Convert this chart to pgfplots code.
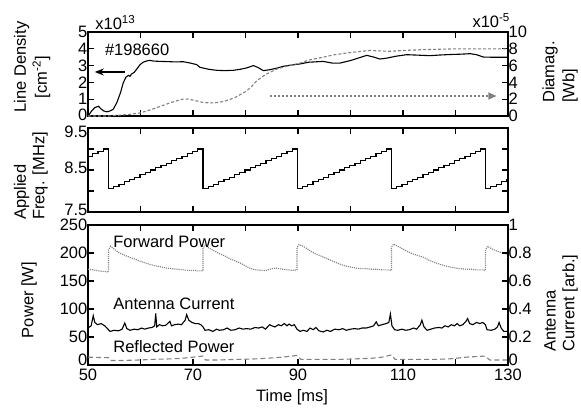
\documentclass[border=0pt]{standalone}
\usepackage{fontspec}
\setmainfont{Liberation Sans}
\usepackage{pgfplots}
\pgfplotsset{compat=1.18}
\usetikzlibrary{arrows.meta}

\definecolor{trace}{gray}{0.5}

\tikzset{lab/.style={font=\fontsize{16.5}{18}\selectfont, inner sep=0pt}}
\pgfplotsset{
  panel/.style={
    scale only axis, width=420pt,
    xmin=50, xmax=130, xtick={50,60,...,130},
    tick align=inside, major tick length=6pt,
    axis line style={line width=1.1pt},
    every tick/.style={black, line width=1.1pt},
    tick label style={font=\fontsize{16.5}{18}\selectfont},
    yticklabel style={inner sep=0.5pt},
    xticklabel style={inner sep=1pt, yshift=-3pt},
    /pgf/number format/assume math mode=true,
    clip=false,
  },
}

\begin{document}
\begin{tikzpicture}[x=1pt,y=1pt]
\path (0,0) rectangle (581,-407);

%% ---- panel 1: line density / diamagnetic flux
\begin{axis}[panel, at={(88pt,-32pt)}, anchor=north west, height=84pt,
  ymin=0, ymax=5, ytick={1,2,...,5}, extra y ticks={0},
  extra y tick style={yticklabel style={yshift=1.5pt}},
  ytick pos=left, xticklabels={}]
\addplot[black, line width=1.1pt] coordinates {
 (50,0) (50.7,0.3) (51.3,0.5) (52.0,0.58) (52.5,0.42) (53,0.3) (53.6,0.25)
 (54.2,0.3) (54.8,0.4) (55.5,0.8) (56.2,1.4) (56.7,1.96) (57.2,2.3) (57.7,2.42)
 (58.0,2.36) (58.3,2.5) (58.8,2.6) (59.3,2.8) (59.9,3.05) (60.5,3.2) (61.2,3.28)
 (61.8,3.31) (62.5,3.27) (63.7,3.25) (65,3.24) (66.5,3.22) (68.2,3.23) (69.5,3.15)
 (70.7,3.06) (71.3,2.9) (72,2.85) (73,2.78) (74.5,2.72) (76,2.7) (77.7,2.72)
 (79,2.78) (80.2,2.86) (81.5,3.0) (82.3,2.9) (83.4,2.7) (84.7,2.76) (86,2.85)
 (87.2,2.96) (88.5,3.02) (90.4,3.1) (92,3.2) (94.8,3.25) (96.5,3.15) (98,3.15)
 (100,3.3) (101.5,3.45) (103.1,3.61) (104.5,3.5) (105.6,3.39) (107,3.45) (108.5,3.55)
 (110.7,3.65) (113,3.62) (115.1,3.59) (117,3.63) (119,3.66) (121,3.68) (122.8,3.71)
 (124,3.65) (125.3,3.51) (126.6,3.5) (128,3.5) (130,3.5)
};
\draw[black, line width=1.1pt, -{Stealth[length=9pt,width=7pt]}]
  (axis cs:57.0,2.62) -- (axis cs:51.3,2.62);
\node[lab, anchor=west] at (axis cs:53.2,3.93) {\#198660};
\node[lab, anchor=base west] at (axis description cs:0.017,1.025) {x10\textsuperscript{13}};
\node[lab, anchor=west, rotate=90] at (axis description cs:-0.158,0.04) {Line Density};
\node[lab, anchor=west, rotate=90] at (axis description cs:-0.111,0.21) {[cm\textsuperscript{-2}]};
\node[lab, anchor=west, rotate=90] at (axis description cs:1.10,0.155) {Diamag.};
\node[lab, anchor=west, rotate=90] at (axis description cs:1.148,0.155) {[Wb]};
\end{axis}
\begin{axis}[panel, at={(88pt,-32pt)}, anchor=north west, height=84pt,
  axis x line=none, axis y line*=right, tick align=inside,
  ymin=0, ymax=10, ytick={0,2,...,10}]
\addplot[trace, line width=1.1pt, dash pattern=on 3pt off 2pt] coordinates {
 (50,0) (54,0) (56,0.1) (58,0.2) (60,0.38) (62,0.75) (64,1.2) (66,1.65) (68,2.0)
 (69,2.02) (70,1.9) (72,1.6) (74,1.55) (76,1.75) (78,2.2) (80,2.9) (81,3.4)
 (82,4.1) (83,4.6) (84,5.0) (86,5.6) (88,5.95) (90.4,6.3) (92,6.65) (94.8,7.0)
 (97,7.3) (99.3,7.5) (102,7.7) (103.7,7.8) (107.5,7.7) (110,7.8) (113.9,7.9)
 (120,8.0) (130,8.0)
};
\draw[trace, line width=1.1pt, dash pattern=on 2pt off 2pt,
  -{Triangle[length=8pt,width=7pt]}]
  (axis cs:84.7,2.38) -- (axis cs:127.8,2.38);
\node[lab, anchor=base east] at (axis description cs:1.005,1.05) {x10\textsuperscript{-5}};
\end{axis}

%% ---- panel 2: applied frequency
\begin{axis}[panel, at={(88pt,-128pt)}, anchor=north west, height=84pt,
  ymin=7.5, ymax=9.5, ytick={7.5,8,8.5,9}, yticklabels={7.5,,8.5,},
  yticklabel style={yshift=2.5pt},
  extra y ticks={9.5}, extra y tick labels={9.5},
  extra y tick style={yticklabel style={yshift=-6pt}},
  xticklabels={}]
\addplot[black, line width=1.1pt, const plot mark left] coordinates {
 (50,8.83) (50.9,8.89) (51.9,8.94) (52.9,9.00)
 (53.9,8.05) (54.9,8.11) (55.9,8.16) (56.9,8.22) (57.9,8.27) (58.9,8.33)
 (59.9,8.39) (60.9,8.44) (61.9,8.50) (62.9,8.55) (63.9,8.61) (64.9,8.66)
 (65.9,8.72) (66.9,8.78) (67.9,8.83) (68.9,8.89) (69.9,8.94) (70.9,9.00)
 (71.9,8.05) (72.9,8.11) (73.9,8.16) (74.9,8.22) (75.9,8.27) (76.9,8.33)
 (77.9,8.39) (78.9,8.44) (79.9,8.50) (80.9,8.55) (81.9,8.61) (82.9,8.66)
 (83.9,8.72) (84.9,8.78) (85.9,8.83) (86.9,8.89) (87.9,8.94) (88.9,9.00)
 (89.85,8.05) (90.85,8.11) (91.85,8.16) (92.85,8.22) (93.85,8.27) (94.85,8.33)
 (95.85,8.39) (96.85,8.44) (97.85,8.50) (98.85,8.55) (99.85,8.61) (100.85,8.66)
 (101.85,8.72) (102.85,8.78) (103.85,8.83) (104.85,8.89) (105.85,8.94) (106.85,9.00)
 (107.8,8.05) (108.8,8.11) (109.8,8.16) (110.8,8.22) (111.8,8.27) (112.8,8.33)
 (113.8,8.39) (114.8,8.44) (115.8,8.50) (116.8,8.55) (117.8,8.61) (118.8,8.66)
 (119.8,8.72) (120.8,8.78) (121.8,8.83) (122.8,8.89) (123.8,8.94) (124.8,9.00)
 (125.75,8.05) (126.75,8.11) (127.75,8.16) (128.75,8.22) (129.75,8.27) (130,8.27)
};
\node[lab, anchor=west, rotate=90] at (axis description cs:-0.158,-0.095) {Applied};
\node[lab, anchor=west, rotate=90] at (axis description cs:-0.114,-0.095) {Freq. [MHz]};
\end{axis}

%% ---- panel 3: power / antenna current
\begin{axis}[panel, at={(88pt,-225pt)}, anchor=north west, height=140pt,
  ymin=0, ymax=250, ytick={50,100,...,250}, ytick pos=left,
  extra y ticks={0}, extra y tick style={yticklabel style={yshift=5.5pt}},
  xticklabels={50,,70,,90,,110,,130},
  xlabel={Time [ms]}, xlabel style={lab, at={(axis description cs:0.486,-0.229)}, anchor=center}]
% forward power
\addplot[trace, line width=1.1pt, densely dotted] coordinates {
 (50,171) (51,170) (52,168) (53,167) (53.9,166) (53.9,205) (54.3,212) (55,207)
 (56,200) (57,196) (58,192) (59,189) (60,185) (61,182) (62,179) (63,177) (64,175)
 (65,173) (66,172) (67,171) (68,170) (69,169) (70,169) (71,168) (71.9,168)
 (71.9,208) (72.3,214) (73,209) (74,204) (75,199) (76,195) (77,190) (78,186)
 (79,182) (80,177) (81,172) (82,170) (83,169) (84,169) (85,172) (86,173) (87,171)
 (88,170) (89,169) (89.8,170) (89.8,210) (90.2,215) (91,212) (92,206) (93,200)
 (94,196) (95,192) (96,188) (97,184) (98,180) (99,177) (100,175) (101,173)
 (102,172) (103,172) (104,171) (105,171) (106,170) (107,170) (107.8,169)
 (107.8,210) (108.2,216) (109,212) (110,207) (111,202) (112,198) (113,195)
 (114,192) (115,187) (116,183) (117,180) (118,177) (119,175) (120,173) (121,172)
 (122,171) (123,171) (124,170) (125,170) (125.7,169) (125.7,205) (126.1,212)
 (127,207) (128,203) (129,200) (130,198)
};
% reflected power
\addplot[trace, line width=1.1pt, dash pattern=on 5pt off 3pt] coordinates {
 (50,14) (53.9,13) (54.3,8) (56,8) (58,8.5) (60,9) (62,10) (64,10.5) (66,11)
 (68,12) (70,14) (71.9,16) (72.4,9) (75,9) (78,10) (81,10.5) (84,12) (87,14)
 (89.8,17) (90.6,10) (94,10) (98,10) (101,11) (104,12) (106,14) (107.8,18)
 (108.5,10) (112,10) (116,10) (119,11) (122,14) (125.7,16) (126.5,9) (130,9)
};
\node[lab, anchor=west] at (axis cs:54.8,221) {Forward Power};
\node[lab, anchor=west] at (axis cs:54.8,109) {Antenna Current};
\node[lab, anchor=west] at (axis cs:54.8,32.7) {Reflected Power};
\node[lab, anchor=center, rotate=90] at (axis description cs:-0.14,0.464) {Power [W]};
\node[lab, anchor=west, rotate=90] at (axis description cs:1.10,0.093) {Antenna};
\node[lab, anchor=west, rotate=90] at (axis description cs:1.148,0.093) {Current [arb.]};
\end{axis}
\begin{axis}[panel, at={(88pt,-225pt)}, anchor=north west, height=140pt,
  axis x line=none, axis y line*=right, tick align=inside,
  ymin=0, ymax=1, ytick={0.2,0.4,...,1}, extra y ticks={0},
  extra y tick style={yticklabel style={yshift=5.5pt}}]
\addplot[black, line width=1.1pt] coordinates {
 (50.0,0.264) (50.6,0.28) (51.0,0.352) (51.3,0.304) (51.8,0.288) (52.5,0.296)
 (53.2,0.28) (53.8,0.256) (54.2,0.24) (55.0,0.248) (55.8,0.244) (56.5,0.256)
 (57.0,0.30) (57.4,0.26) (58.0,0.248) (58.8,0.256) (59.5,0.252) (60.2,0.264)
 (60.8,0.256) (61.5,0.264) (62.2,0.268) (62.7,0.28) (62.9,0.368) (63.1,0.272)
 (63.6,0.288) (64.2,0.28) (64.8,0.284) (65.4,0.304) (65.6,0.312) (65.9,0.28)
 (66.5,0.288) (67.2,0.292) (67.8,0.288) (68.5,0.32) (68.8,0.36) (69.2,0.32)
 (69.8,0.304) (70.4,0.296) (71.0,0.296) (71.5,0.288) (71.9,0.272) (72.3,0.248)
 (73.0,0.252) (73.8,0.24) (74.5,0.256) (75.0,0.248) (75.8,0.252) (76.5,0.264)
 (77.2,0.248) (78.0,0.252) (78.8,0.264) (79.5,0.256) (80.2,0.26) (81.0,0.256)
 (81.8,0.268) (82.5,0.264) (83.2,0.272) (83.8,0.256) (84.6,0.288) (85.0,0.28)
 (85.6,0.272) (86.3,0.288) (86.8,0.28) (87.4,0.296) (87.9,0.28) (88.3,0.292)
 (88.8,0.28) (89.3,0.288) (89.8,0.256) (90.4,0.24) (91.0,0.248) (91.7,0.24)
 (92.3,0.264) (92.9,0.252) (93.4,0.268) (94.0,0.244) (94.8,0.236) (95.5,0.248)
 (96.2,0.24) (97.0,0.256) (97.8,0.252) (98.5,0.26) (99.2,0.248) (100.0,0.256)
 (100.8,0.26) (101.5,0.256) (102.2,0.264) (103.0,0.264) (103.8,0.272) (104.4,0.28)
 (104.9,0.308) (105.3,0.28) (106.0,0.288) (106.8,0.296) (107.3,0.304) (107.6,0.364)
 (107.9,0.28) (108.4,0.252) (109.0,0.248) (109.8,0.256) (110.5,0.248) (111.2,0.252)
 (112.0,0.264) (112.6,0.256) (113.3,0.288) (113.6,0.32) (114.0,0.272) (114.6,0.248)
 (115.3,0.256) (116.0,0.264) (116.8,0.268) (117.4,0.264) (118.0,0.28) (118.6,0.272)
 (119.2,0.288) (119.8,0.28) (120.3,0.296) (120.8,0.28) (121.4,0.288) (122.0,0.312)
 (122.3,0.332) (122.7,0.296) (123.3,0.288) (124.0,0.304) (124.6,0.296) (125.2,0.304)
 (125.7,0.288) (126.0,0.252) (126.8,0.248) (127.5,0.256) (128.0,0.272) (128.3,0.304)
 (128.7,0.264) (129.2,0.24) (130.0,0.24)
};
\end{axis}
\end{tikzpicture}
\end{document}
